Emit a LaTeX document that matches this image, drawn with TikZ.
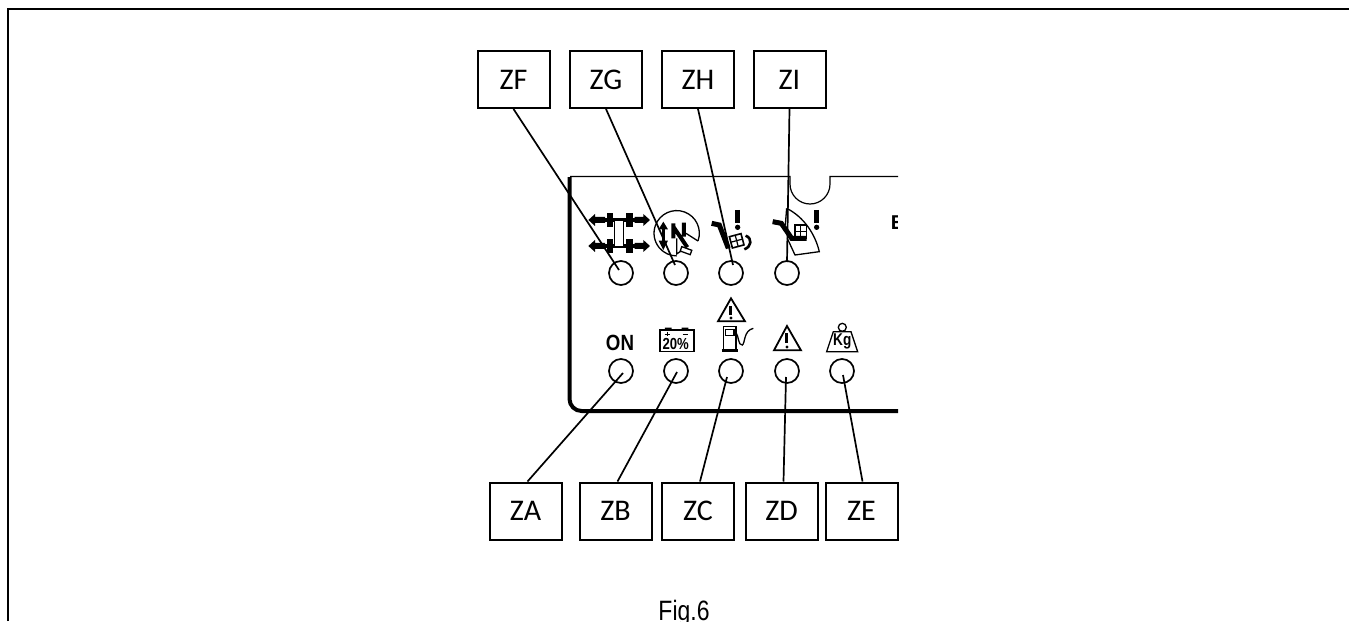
\documentclass[tikz,border=0pt]{standalone}
\usepackage{fontspec}
\setmainfont{Carlito}
\newfontfamily\arialf{Liberation Sans}
\tikzset{
  tag/.style={draw=black,line width=2pt,minimum width=72pt,minimum height=57pt,inner sep=0pt,font=\fontsize{30}{33}\selectfont},
  led/.style={circle,draw=black,line width=1.7pt,minimum size=24pt,inner sep=0pt},
  leader/.style={line width=1.7pt,black},
  iconline/.style={line width=1.3pt,black},
  iconthick/.style={line width=3.4pt,black},
  zoomA/.style={shift={(560,170)},x=0.3333pt,y=-0.3333pt},
  zoomB/.style={shift={(560,290)},x=0.3333pt,y=-0.3333pt},
}
\begin{document}
\begin{tikzpicture}[x=1pt,y=-1pt]
\useasboundingbox (0,0) rectangle (1349,621);
% frame
\draw[line width=2pt] (8,621) -- (8,9) -- (1349,9);
% panel
\draw[line width=1.2pt] (570,176.5) -- (790,176.5) -- (790,184) arc[start angle=180,end angle=0,radius=20] -- (830,176.5) -- (898,176.5);
\draw[line width=4pt] (569.5,177) -- (569.5,399) arc[start angle=180,end angle=90,radius=12] -- (898,411);
% LEDs
\node[led] (l1) at (621,273) {};
\node[led] (l2) at (676,273) {};
\node[led] (l3) at (731,273) {};
\node[led] (l4) at (787,273) {};
\node[led] (b1) at (621,371) {};
\node[led] (b2) at (676,371) {};
\node[led] (b3) at (731,371) {};
\node[led] (b4) at (787,371) {};
\node[led] (b5) at (842,371) {};
% tags
\node[tag] (zf) at (513.5,79.5) {ZF};
\node[tag] (zg) at (606,79.5) {ZG};
\node[tag] (zh) at (698,79.5) {ZH};
\node[tag] (zi) at (789.5,79.5) {ZI};
\node[tag] (za) at (525.5,511) {ZA};
\node[tag] (zb) at (615.5,511) {ZB};
\node[tag] (zc) at (698,511) {ZC};
\node[tag] (zd) at (781.5,511) {ZD};
\node[tag] (ze) at (861.5,511) {ZE};
% leader ends inside the LEDs
\coordinate (ef) at (619,270);
\coordinate (eg) at (675,265);
\coordinate (eh) at (733,265);
\coordinate (ei) at (787,262);
\coordinate (ea) at (623,373);
\coordinate (eb) at (677,372);
\coordinate (ec) at (727,377);
\coordinate (ed) at (786,377);
\coordinate (ee) at (843,375);
\draw[leader] (zf.south) -- (ef);
\draw[leader] (zg.south) -- (eg);
\draw[leader] (zh.south) -- (eh);
\draw[leader] (zi.south) -- (ei);
\draw[leader] (za.north) ++(2,0) -- (ea);
\draw[leader] (zb.north) ++(2,0) -- (eb);
\draw[leader] (zc.north) ++(2,0) -- (ec);
\draw[leader] (zd.north) ++(2,0) -- (ed);
\draw[leader] (ze.north) ++(1,0) -- (ee);
% upper icons, in zoom coordinates
\begin{scope}[zoomA]
 % axle icon
 \foreach \yy in {150,228}{
  \fill (85,\yy) -- (105,\yy-18) -- (105,\yy-9) -- (135,\yy-9) -- (135,\yy+9) -- (105,\yy+9) -- (105,\yy+18) -- cycle;
  \fill (270,\yy) -- (250,\yy-18) -- (250,\yy-9) -- (224,\yy-9) -- (224,\yy+9) -- (250,\yy+9) -- (250,\yy+18) -- cycle;
  \fill (140,\yy-20) rectangle (158,\yy+20);
  \fill (198,\yy-20) rectangle (218,\yy+20);
  \fill (135,\yy-5) rectangle (224,\yy+5);
 }
 \draw[iconline,fill=white] (163,150) rectangle (191,230);
 % circle icon
 \draw[iconline] (414,213) arc[start angle=20,delta angle=-290,radius=68];
 \draw[iconthick] (310,165) -- (310,225);
 \fill (296,178) -- (310,155) -- (324,178) -- cycle;
 \fill (296,212) -- (310,240) -- (324,212) -- cycle;
 \draw[line width=4pt] (340,160) -- (340,205) (372,158) -- (372,200) (340,170) -- (382,232);
 \draw[iconline] (350,205) -- (350,252) -- (368,240) (414,213) -- (378,190);
 \draw[iconline,fill=white,rotate around={-20:(378,242)}] (362,235) rectangle (394,249);
 % first check icon
 \draw[line width=5pt] (455,160) -- (478,165) -- (505,235);
 \draw[line width=1.6pt,rotate around={15:(530,212)}] (512,195) rectangle (548,230);
 \draw[line width=1.2pt,rotate around={15:(530,212)}] (530,195) -- (530,230) (512,212) -- (548,212);
 \draw[line width=2.6pt] (557,197) .. controls (578,205) and (575,230) .. (553,238);
 \draw[line width=5.4pt] (533,120) -- (533,160);
 \fill (533,172) circle[radius=8];
 % second check icon
 \draw[iconline] (680,115) .. controls (730,140) and (765,190) .. (778,245) -- (705,255) -- (682,205);
 \draw[iconline] (680,115) -- (676,165);
 \draw[line width=5pt] (638,155) -- (664,160) -- (695,205) -- (740,205);
 \draw[line width=1.6pt] (705,165) rectangle (740,205);
 \draw[line width=1.2pt] (722,165) -- (722,205) (705,185) -- (740,185);
 \draw[line width=5.4pt] (770,120) -- (770,160);
 \fill (770,172) circle[radius=8];
 % clipped letter
 \begin{scope}
  \clip (980,100) rectangle (1014,200);
  \node[inner sep=0pt,anchor=west,font=\arialf\bfseries\fontsize{20}{22}\selectfont] (letterE) at (992,157) {E};
 \end{scope}
\end{scope}
% lower icons: zoom coordinates
\begin{scope}[zoomB]
 \node[inner sep=0pt,font=\arialf\bfseries\fontsize{22}{24}\selectfont,xscale=.85] (on) at (180,158) {ON};
 % battery
 \draw[iconline] (300,120) rectangle (402,185);
 \fill (315,113) rectangle (335,120) (365,113) rectangle (385,120);
 \node[inner sep=0pt,font=\arialf\bfseries\fontsize{16}{17}\selectfont,xscale=.82] (pct) at (347,163) {20\%};
 \draw[line width=.8pt] (314,132) -- (330,132) (322,125) -- (322,139) (368,132) -- (384,132);
 % pump warning
 \draw[line width=1.8pt,line join=miter] (513,25) -- (555,94) -- (474,94) -- cycle;
 \draw[line width=3pt] (513,48) -- (513,74);
 \fill (513,84) circle[radius=5];
 \draw[iconline] (490,178) -- (490,110) -- (528,110) -- (528,178);
 \draw[iconline] (496,118) rectangle (522,136);
 \draw[line width=2.4pt] (485,181) -- (533,181);
 \draw[iconline] (528,128) .. controls (536,135) and (534,168) .. (547,165) .. controls (556,160) and (550,122) .. (580,115);
 % warning
 \draw[line width=1.8pt,line join=miter] (681,108) -- (723,181) -- (642,181) -- cycle;
 \draw[line width=3pt] (681,130) -- (681,160);
 \fill (681,171) circle[radius=5];
 % weight
 \draw[iconline] (847,112) circle[radius=12];
 \draw[iconline] (820,125) -- (873,125) -- (893,185) -- (800,185) -- cycle;
 \node[inner sep=0pt,font=\arialf\bfseries\fontsize{17}{18}\selectfont,xscale=.8] (kg) at (847,155) {Kg};
\end{scope}
% caption
\node[inner sep=0pt,anchor=base,font=\arialf\fontsize{28}{30}\selectfont,xscale=.82] (cap) at (684,620) {Fig.6};
\end{tikzpicture}
\end{document}
